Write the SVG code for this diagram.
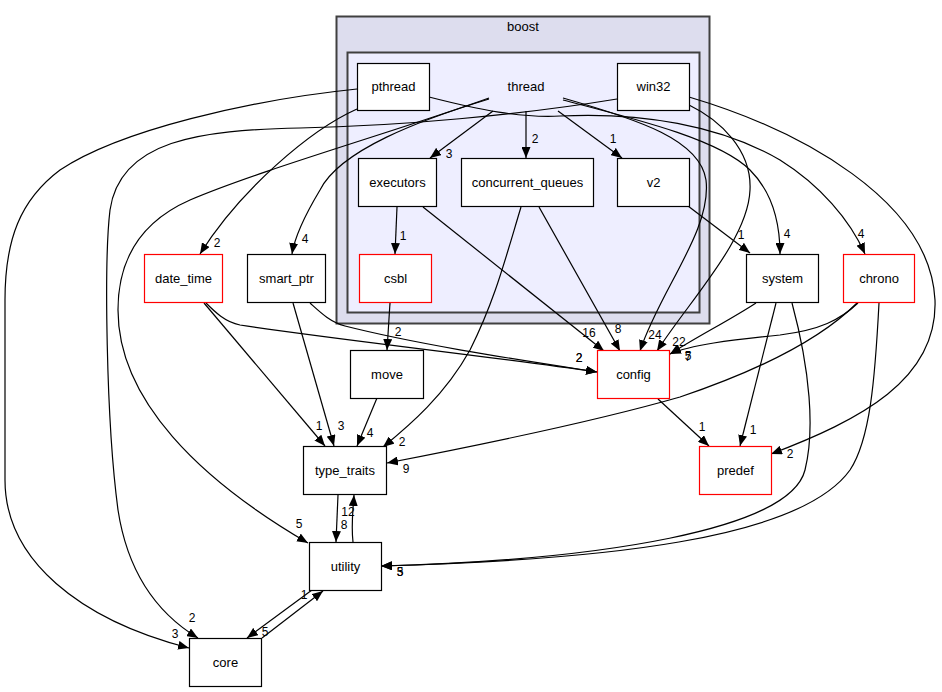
<svg xmlns="http://www.w3.org/2000/svg" width="942" height="692" viewBox="0 0 942 692">
<style>
text{font-family:"Liberation Sans",Arial,sans-serif;fill:#000}
.n{font-size:13px;text-anchor:middle}
.l{font-size:12px;text-anchor:middle}
.box{fill:#fff;stroke:#000;stroke-width:1.2}
.red{fill:#fff;stroke:#ff0000;stroke-width:1.2}
.e{fill:none;stroke:#000;stroke-width:1.2;marker-end:url(#a)}
</style>
<defs>
<marker id="a" markerWidth="12" markerHeight="9" refX="11" refY="4.5" orient="auto" markerUnits="userSpaceOnUse">
<path d="M0,0 L11,4.5 L0,9 z" fill="#000"/>
</marker>
</defs>
<rect width="942" height="692" fill="#fff"/>
<g id="cluster_boost">
<rect x="336.5" y="16.5" width="373" height="307" fill="#ddddee" stroke="#404040" stroke-width="2"/>
<text class="n" x="523" y="31">boost</text>
</g>
<g id="cluster_thread">
<rect x="347.5" y="52.5" width="352" height="260" fill="#eeeeff" stroke="#404040" stroke-width="2"/>
<text class="n" x="526" y="91">thread</text>
</g>
<g id="connectors">
<path class="e" d="M493,111 L430,158"/>
<path class="e" d="M526,111 L526,158"/>
<path class="e" d="M558,111 L622,158"/>
<path class="e" d="M397,207 L395,254"/>
<path class="e" d="M390,303 L387,350"/>
<path class="e" d="M357,109 C310,130 240,190 200,254"/>
<path class="e" d="M489,99 C420,120 340,150 320,190 C305,215 295,235 292,254"/>
<path class="e" d="M489,98 C400,130 260,170 190,200 C140,222 118,260 118,310 C118,400 200,480 308,543"/>
<path class="e" d="M617,99 C520,115 400,126 300,128 C200,130 120,140 110,210 C104,260 106,420 118,510 C128,575 160,615 198,638"/>
<path class="e" d="M357,89 C250,100 120,130 60,170 C20,200 5,240 5,300 L5,480 C5,560 80,620 189,648"/>
<path class="e" d="M563,98 C640,120 700,140 706,180 C712,230 660,290 640,351"/>
<path class="e" d="M689,105 C720,120 752,150 750,190 C748,240 690,300 657,351"/>
<path class="e" d="M563,100 C640,120 720,140 750,170 C775,195 780,230 780,254"/>
<path class="e" d="M429,97 C480,110 520,118 560,116 C640,112 720,125 780,160 C820,185 850,220 865,254"/>
<path class="e" d="M689,97 C800,130 930,200 935,300 C938,380 860,420 771,454"/>
<path class="e" d="M688,206 L750,253"/>
<path class="e" d="M756,303 C730,320 700,335 670,354"/>
<path class="e" d="M858,303 C840,320 820,330 780,335 C730,340 690,345 670,354"/>
<path class="e" d="M857,303 C820,340 760,370 680,397 C600,420 480,445 387,463"/>
<path class="e" d="M879,303 C875,380 870,440 850,470 C800,540 600,560 381,566"/>
<path class="e" d="M792,303 C810,370 815,430 805,470 C790,530 600,560 381,566"/>
<path class="e" d="M776,303 L740,446"/>
<path class="e" d="M658,399 L709,446"/>
<path class="e" d="M539,207 L620,351"/>
<path class="e" d="M521,207 C505,260 495,300 470,350 C445,395 410,425 383,447"/>
<path class="e" d="M423,207 L604,351"/>
<path class="e" d="M204,303 L325,446"/>
<path class="e" d="M206,303 C215,312 225,322 240,325 C340,340 480,355 597,372"/>
<path class="e" d="M310,303 C320,312 330,322 345,326 C420,345 520,360 597,372"/>
<path class="e" d="M293,303 L334,446"/>
<path class="e" d="M377,398 L357,446"/>
<path class="e" d="M338,495 L336,542"/>
<path class="e" d="M353,542 C351,525 353,510 354,495"/>
<path class="e" d="M312,590 L247,638"/>
<path class="e" d="M262,638 L323,591"/>
<g id="edge_labels">
<text class="l" x="449" y="158">3</text>
<text class="l" x="535" y="143">2</text>
<text class="l" x="613" y="143">1</text>
<text class="l" x="403" y="240">1</text>
<text class="l" x="398" y="336">2</text>
<text class="l" x="217" y="247">2</text>
<text class="l" x="305" y="243">4</text>
<text class="l" x="299" y="528">5</text>
<text class="l" x="192" y="622">2</text>
<text class="l" x="175" y="638">3</text>
<text class="l" x="655" y="339">24</text>
<text class="l" x="679" y="346">22</text>
<text class="l" x="787" y="238">4</text>
<text class="l" x="861" y="238">4</text>
<text class="l" x="790" y="458">2</text>
<text class="l" x="741" y="239">1</text>
<text class="l" x="688" y="360">5</text>
<text class="l" x="688" y="361">7</text>
<text class="l" x="406" y="473">9</text>
<text class="l" x="400" y="576">3</text>
<text class="l" x="400" y="576">5</text>
<text class="l" x="753" y="434">1</text>
<text class="l" x="702" y="431">1</text>
<text class="l" x="618" y="333">8</text>
<text class="l" x="402" y="446">2</text>
<text class="l" x="589" y="337">16</text>
<text class="l" x="319" y="430">1</text>
<text class="l" x="579" y="362">2</text>
<text class="l" x="579" y="362">2</text>
<text class="l" x="341" y="430">3</text>
<text class="l" x="370" y="437">4</text>
<text class="l" x="344" y="529">8</text>
<text class="l" x="348" y="516">12</text>
<text class="l" x="304" y="599">1</text>
<text class="l" x="265" y="636">5</text>
</g>
</g>
<g id="pthread"><rect class="box" x="357.5" y="63.5" width="72" height="47"/><text class="n" x="393.5" y="91">pthread</text></g>
<g id="win32"><rect class="box" x="617.5" y="63.5" width="72" height="47"/><text class="n" x="653.5" y="91">win32</text></g>
<g id="executors"><rect class="box" x="358.5" y="158.5" width="78" height="48"/><text class="n" x="397.5" y="187">executors</text></g>
<g id="concurrent_queues"><rect class="box" x="461.5" y="158.5" width="132" height="48"/><text class="n" x="527.5" y="187">concurrent_queues</text></g>
<g id="v2"><rect class="box" x="617.5" y="158.5" width="72" height="48"/><text class="n" x="653.5" y="187">v2</text></g>
<g id="csbl"><rect class="red" x="359.5" y="254.5" width="72" height="48"/><text class="n" x="395.5" y="283">csbl</text></g>
<g id="date_time"><rect class="red" x="144.5" y="254.5" width="78" height="48"/><text class="n" x="183.5" y="283">date_time</text></g>
<g id="smart_ptr"><rect class="box" x="247.5" y="254.5" width="78" height="48"/><text class="n" x="286.5" y="283">smart_ptr</text></g>
<g id="system"><rect class="box" x="746.5" y="254.5" width="72" height="48"/><text class="n" x="782.5" y="283">system</text></g>
<g id="chrono"><rect class="red" x="843.5" y="254.5" width="71" height="48"/><text class="n" x="879" y="283">chrono</text></g>
<g id="move"><rect class="box" x="350.5" y="350.5" width="73" height="48"/><text class="n" x="387" y="379">move</text></g>
<g id="config"><rect class="red" x="597.5" y="350.5" width="72" height="48"/><text class="n" x="633.5" y="379">config</text></g>
<g id="type_traits"><rect class="box" x="303.5" y="446.5" width="83" height="48"/><text class="n" x="345" y="475">type_traits</text></g>
<g id="predef"><rect class="red" x="699.5" y="446.5" width="72" height="48"/><text class="n" x="735.5" y="475">predef</text></g>
<g id="utility"><rect class="box" x="309.5" y="542.5" width="72" height="48"/><text class="n" x="345.5" y="571">utility</text></g>
<g id="core"><rect class="box" x="189.5" y="638.5" width="72" height="48"/><text class="n" x="225.5" y="667">core</text></g>
</svg>
